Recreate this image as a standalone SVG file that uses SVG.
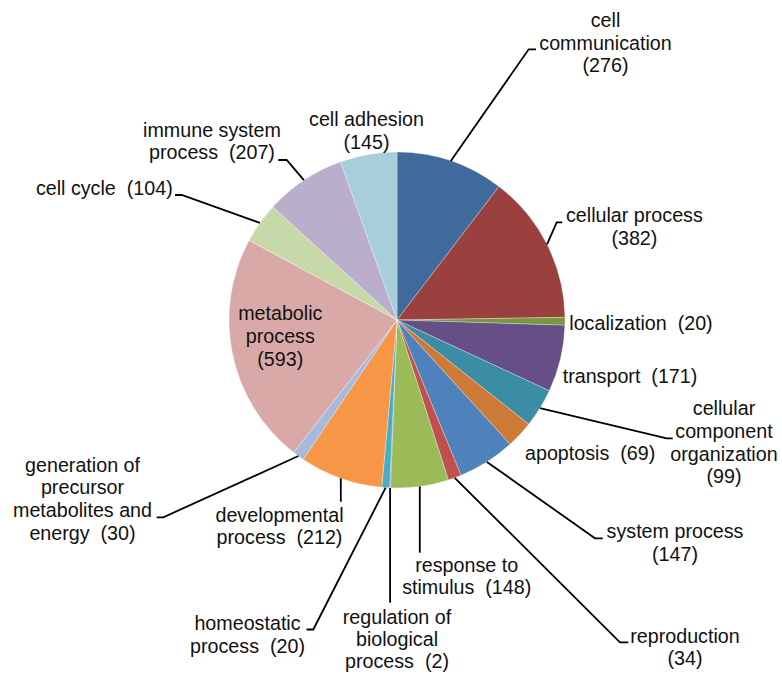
<svg xmlns="http://www.w3.org/2000/svg" width="782" height="674" viewBox="0 0 782 674">
<style>
.s{stroke:#fff;stroke-width:0.5;stroke-opacity:0.6}
.t{font-family:"Liberation Sans",Arial,sans-serif;font-size:19.7px;fill:#111;white-space:pre}
.m{text-anchor:middle}
.e{text-anchor:end}
.l{fill:none;stroke:#000;stroke-width:1.8;stroke-linejoin:miter}
</style>
<rect width="782" height="674" fill="#fff"/>
<g id="pie">
<path class="s" fill="#3F6A9B" d="M397,320 L397,152 A168,168 0 0 1 498.98,186.49 Z"/>
<path class="s" fill="#9A403E" d="M397,320 L498.98,186.49 A168,168 0 0 1 564.98,317.33 Z"/>
<path class="s" fill="#77983F" d="M397,320 L564.98,317.33 A168,168 0 0 1 564.92,325.25 Z"/>
<path class="s" fill="#664F86" d="M397,320 L564.92,325.25 A168,168 0 0 1 549.33,390.84 Z"/>
<path class="s" fill="#3A8DA5" d="M397,320 L549.33,390.84 A168,168 0 0 1 528.78,424.21 Z"/>
<path class="s" fill="#CD7A37" d="M397,320 L528.78,424.21 A168,168 0 0 1 510.08,444.25 Z"/>
<path class="s" fill="#4F81BD" d="M397,320 L510.08,444.25 A168,168 0 0 1 461.04,475.32 Z"/>
<path class="s" fill="#C0504D" d="M397,320 L461.04,475.32 A168,168 0 0 1 448.36,479.95 Z"/>
<path class="s" fill="#9BBB59" d="M397,320 L448.36,479.95 A168,168 0 0 1 390.46,487.87 Z"/>
<path class="s" fill="#8064A2" d="M397,320 L390.46,487.87 A168,168 0 0 1 389.67,487.84 Z"/>
<path class="s" fill="#4BACC6" d="M397,320 L389.67,487.84 A168,168 0 0 1 381.75,487.31 Z"/>
<path class="s" fill="#F79646" d="M397,320 L381.75,487.31 A168,168 0 0 1 303.27,459.42 Z"/>
<path class="s" fill="#A7B9DC" d="M397,320 L303.27,459.42 A168,168 0 0 1 293.65,452.45 Z"/>
<path class="s" fill="#D9A9A8" d="M397,320 L293.65,452.45 A168,168 0 0 1 249.03,240.45 Z"/>
<path class="s" fill="#C7D9A8" d="M397,320 L249.03,240.45 A168,168 0 0 1 272.80,206.87 Z"/>
<path class="s" fill="#B9AECB" d="M397,320 L272.80,206.87 A168,168 0 0 1 340.57,161.76 Z"/>
<path class="s" fill="#A8CEDB" d="M397,320 L340.57,161.76 A168,168 0 0 1 397,152 Z"/>
</g>
<g id="connectors">
<polyline class="l" points="450.8,160.9 528.7,49.3 536,49.3"/>
<polyline class="l" points="547,244.3 556.7,222.3 562.3,222.3"/>
<polyline class="l" points="540,408.2 666.7,438.3 672.7,438.3"/>
<polyline class="l" points="486.9,461.9 595,538.3 602.7,538.3"/>
<polyline class="l" points="454.7,477.8 620,642.3 628.3,642.3"/>
<polyline class="l" points="419.8,486.4 419.8,552.7"/>
<polyline class="l" points="390.1,487.9 390.1,602.7"/>
<polyline class="l" points="385.7,487.6 313.3,629.5 306.5,629.5"/>
<polyline class="l" points="340.8,478.3 340.8,501.7"/>
<polyline class="l" points="298.4,456 163.3,517.3 156.7,517.3"/>
<polyline class="l" points="259.9,222.9 181.7,195 175,195"/>
<polyline class="l" points="303.9,180.1 286.7,160 278.3,160"/>
</g>
<g id="cell-communication">
<text class="t m" x="605.5" y="27">cell</text>
<text class="t m" x="605.5" y="50">communication</text>
<text class="t m" x="605.5" y="72">(276)</text>
</g>
<g id="cellular-process">
<text class="t m" x="634.4" y="222">cellular process</text>
<text class="t m" x="634.4" y="245">(382)</text>
</g>
<g id="localization">
<text class="t" x="569.3" y="330">localization  (20)</text>
</g>
<g id="transport">
<text class="t" x="562.7" y="383">transport  (171)</text>
</g>
<g id="cellular-component-organization">
<text class="t m" x="724" y="415">cellular</text>
<text class="t m" x="724" y="438">component</text>
<text class="t m" x="724" y="461">organization</text>
<text class="t m" x="724" y="483">(99)</text>
</g>
<g id="apoptosis">
<text class="t" x="525" y="460">apoptosis  (69)</text>
</g>
<g id="system-process">
<text class="t m" x="675" y="538">system process</text>
<text class="t m" x="675" y="561">(147)</text>
</g>
<g id="reproduction">
<text class="t m" x="685" y="643">reproduction</text>
<text class="t m" x="685" y="665">(34)</text>
</g>
<g id="response-to-stimulus">
<text class="t m" x="466.7" y="571.5">response to</text>
<text class="t m" x="466.7" y="594">stimulus  (148)</text>
</g>
<g id="regulation-of-biological-process">
<text class="t m" x="397" y="624">regulation of</text>
<text class="t m" x="397" y="646">biological</text>
<text class="t m" x="397" y="667.5">process  (2)</text>
</g>
<g id="homeostatic-process">
<text class="t m" x="247.5" y="630">homeostatic</text>
<text class="t m" x="247.5" y="652.5">process  (20)</text>
</g>
<g id="developmental-process">
<text class="t m" x="279.5" y="521.5">developmental</text>
<text class="t m" x="279.5" y="544">process  (212)</text>
</g>
<g id="generation-of-precursor-metabolites-and-energy">
<text class="t m" x="82.5" y="471.5">generation of</text>
<text class="t m" x="82.5" y="494">precursor</text>
<text class="t m" x="82.5" y="517">metabolites and</text>
<text class="t m" x="82.5" y="539.5">energy  (30)</text>
</g>
<g id="metabolic-process">
<text class="t m" x="280.3" y="320">metabolic</text>
<text class="t m" x="280.3" y="343">process</text>
<text class="t m" x="280.3" y="366">(593)</text>
</g>
<g id="cell-cycle">
<text class="t e" x="172.7" y="195">cell cycle  (104)</text>
</g>
<g id="immune-system-process">
<text class="t m" x="212" y="136.5">immune system</text>
<text class="t m" x="212" y="159">process  (207)</text>
</g>
<g id="cell-adhesion">
<text class="t m" x="366.5" y="126">cell adhesion</text>
<text class="t m" x="366.5" y="148.5">(145)</text>
</g>
</svg>
